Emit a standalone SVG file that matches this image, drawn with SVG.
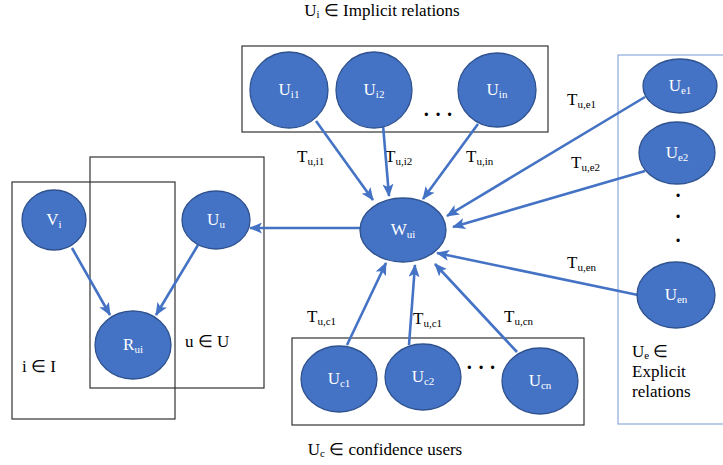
<svg xmlns="http://www.w3.org/2000/svg" width="723" height="465" viewBox="0 0 723 465">
<style>
.n{fill:#4472c4;stroke:#2f528f;stroke-width:1.3}
.nt{fill:#fff;font-family:"Liberation Serif",serif;font-size:17px;text-anchor:middle}
.s{font-size:11px}
.box{fill:none;stroke:#333;stroke-width:1.2}
.c{stroke:#4472c4;stroke-width:2.6;fill:none}
.a{marker-end:url(#ah)}
.t{fill:#000;font-family:"Liberation Serif",serif;font-size:17px}
.d{font-weight:bold;font-size:20px;text-anchor:middle}
</style>
<defs>
<marker id="ah" markerWidth="13" markerHeight="11" refX="12" refY="5.5" orient="auto" markerUnits="userSpaceOnUse"><path d="M0,0 L13,5.5 L0,11 L3,5.5 z" fill="#4472c4"/></marker>
</defs>
<rect width="723" height="465" fill="#fff"/>
<g id="boxes">
<rect class="box" x="242" y="46" width="306" height="86"/>
<rect class="box" x="12" y="182" width="163" height="237"/>
<rect class="box" x="90" y="157" width="174" height="231"/>
<rect class="box" x="292" y="338" width="292" height="87"/>
<rect x="618" y="55" width="110" height="369" fill="none" stroke="#8eaadb" stroke-width="1.2"/>
</g>
<g id="labels">
<text class="t" x="382" y="16" text-anchor="middle">U<tspan class="s" dy="2">i</tspan><tspan dy="-2"> ∈ Implicit relations</tspan></text>
<text class="t" x="385" y="455" text-anchor="middle">U<tspan class="s" dy="2">c</tspan><tspan dy="-2"> ∈ confidence users</tspan></text>
<text class="t" x="185" y="347" font-size="20">u ∈ U</text>
<text class="t" x="22" y="372" font-size="20">i ∈ I</text>
<text class="t" x="632" y="357">U<tspan class="s" dy="2">e</tspan><tspan dy="-2"> ∈</tspan></text>
<text class="t" x="632" y="377">Explicit</text>
<text class="t" x="632" y="397">relations</text>
<text class="t" x="297" y="162">T<tspan class="s" dy="3">u,i1</tspan></text>
<text class="t" x="385" y="162">T<tspan class="s" dy="3">u,i2</tspan></text>
<text class="t" x="466" y="162">T<tspan class="s" dy="3">u,in</tspan></text>
<text class="t" x="567" y="105">T<tspan class="s" dy="3">u,e1</tspan></text>
<text class="t" x="571" y="168">T<tspan class="s" dy="3">u,e2</tspan></text>
<text class="t" x="567" y="268">T<tspan class="s" dy="3">u,en</tspan></text>
<text class="t" x="307" y="322">T<tspan class="s" dy="3">u,c1</tspan></text>
<text class="t" x="413" y="324">T<tspan class="s" dy="3">u,c1</tspan></text>
<text class="t" x="504" y="322">T<tspan class="s" dy="3">u,cn</tspan></text>
<text class="t d" x="438" y="121">· · ·</text>
<text class="t d" x="481" y="374">· · ·</text>
<text class="t d" x="678" y="202">·</text>
<text class="t d" x="678" y="223">·</text>
<text class="t d" x="678" y="247">·</text>
</g>
<g id="connectors">
<line class="c a" x1="316" y1="121" x2="373" y2="200"/>
<line class="c a" x1="383" y1="125" x2="389" y2="196"/>
<line class="c a" x1="478" y1="124" x2="423" y2="199"/>
<line class="c a" x1="645" y1="97" x2="447" y2="216"/>
<line class="c a" x1="645" y1="171" x2="453" y2="227"/>
<line class="c a" x1="638" y1="295" x2="437" y2="253"/>
<line class="c a" x1="347" y1="345" x2="386" y2="263"/>
<line class="c a" x1="409" y1="345" x2="415" y2="265"/>
<line class="c a" x1="517" y1="352" x2="435" y2="264"/>
<line class="c a" x1="360" y1="228" x2="250" y2="228"/>
<line class="c a" x1="72" y1="248" x2="110" y2="315"/>
<line class="c a" x1="198" y1="245" x2="156" y2="315"/>
</g>
<g id="Ui1"><ellipse class="n" cx="289" cy="90" rx="39" ry="38"/><text class="nt" x="289" y="95">U<tspan class="s" dy="3">i1</tspan></text></g>
<g id="Ui2"><ellipse class="n" cx="374" cy="90" rx="38" ry="38"/><text class="nt" x="374" y="95">U<tspan class="s" dy="3">i2</tspan></text></g>
<g id="Uin"><ellipse class="n" cx="497" cy="90" rx="39" ry="37"/><text class="nt" x="497" y="95">U<tspan class="s" dy="3">in</tspan></text></g>
<g id="Wui"><ellipse class="n" cx="403" cy="230" rx="43" ry="32"/><text class="nt" x="403" y="235">W<tspan class="s" dy="3">ui</tspan></text></g>
<g id="Vi"><ellipse class="n" cx="54" cy="220" rx="32" ry="30"/><text class="nt" x="54" y="225">V<tspan class="s" dy="3">i</tspan></text></g>
<g id="Uu"><ellipse class="n" cx="216" cy="220" rx="34" ry="29"/><text class="nt" x="216" y="225">U<tspan class="s" dy="3">u</tspan></text></g>
<g id="Rui"><ellipse class="n" cx="133" cy="345" rx="38" ry="34"/><text class="nt" x="133" y="350" font-size="16">R<tspan class="s" dy="3">ui</tspan></text></g>
<g id="Ue1"><ellipse class="n" cx="680" cy="86" rx="37" ry="27"/><text class="nt" x="680" y="91">U<tspan class="s" dy="3">e1</tspan></text></g>
<g id="Ue2"><ellipse class="n" cx="677" cy="153" rx="38" ry="31"/><text class="nt" x="677" y="158">U<tspan class="s" dy="3">e2</tspan></text></g>
<g id="Uen"><ellipse class="n" cx="676" cy="295" rx="39" ry="33"/><text class="nt" x="676" y="300">U<tspan class="s" dy="3">en</tspan></text></g>
<g id="Uc1"><ellipse class="n" cx="339" cy="379" rx="38" ry="33"/><text class="nt" x="339" y="384">U<tspan class="s" dy="3">c1</tspan></text></g>
<g id="Uc2"><ellipse class="n" cx="423" cy="377" rx="38" ry="33"/><text class="nt" x="423" y="382">U<tspan class="s" dy="3">c2</tspan></text></g>
<g id="Ucn"><ellipse class="n" cx="540" cy="381" rx="38" ry="33"/><text class="nt" x="540" y="386">U<tspan class="s" dy="3">cn</tspan></text></g>
</svg>
